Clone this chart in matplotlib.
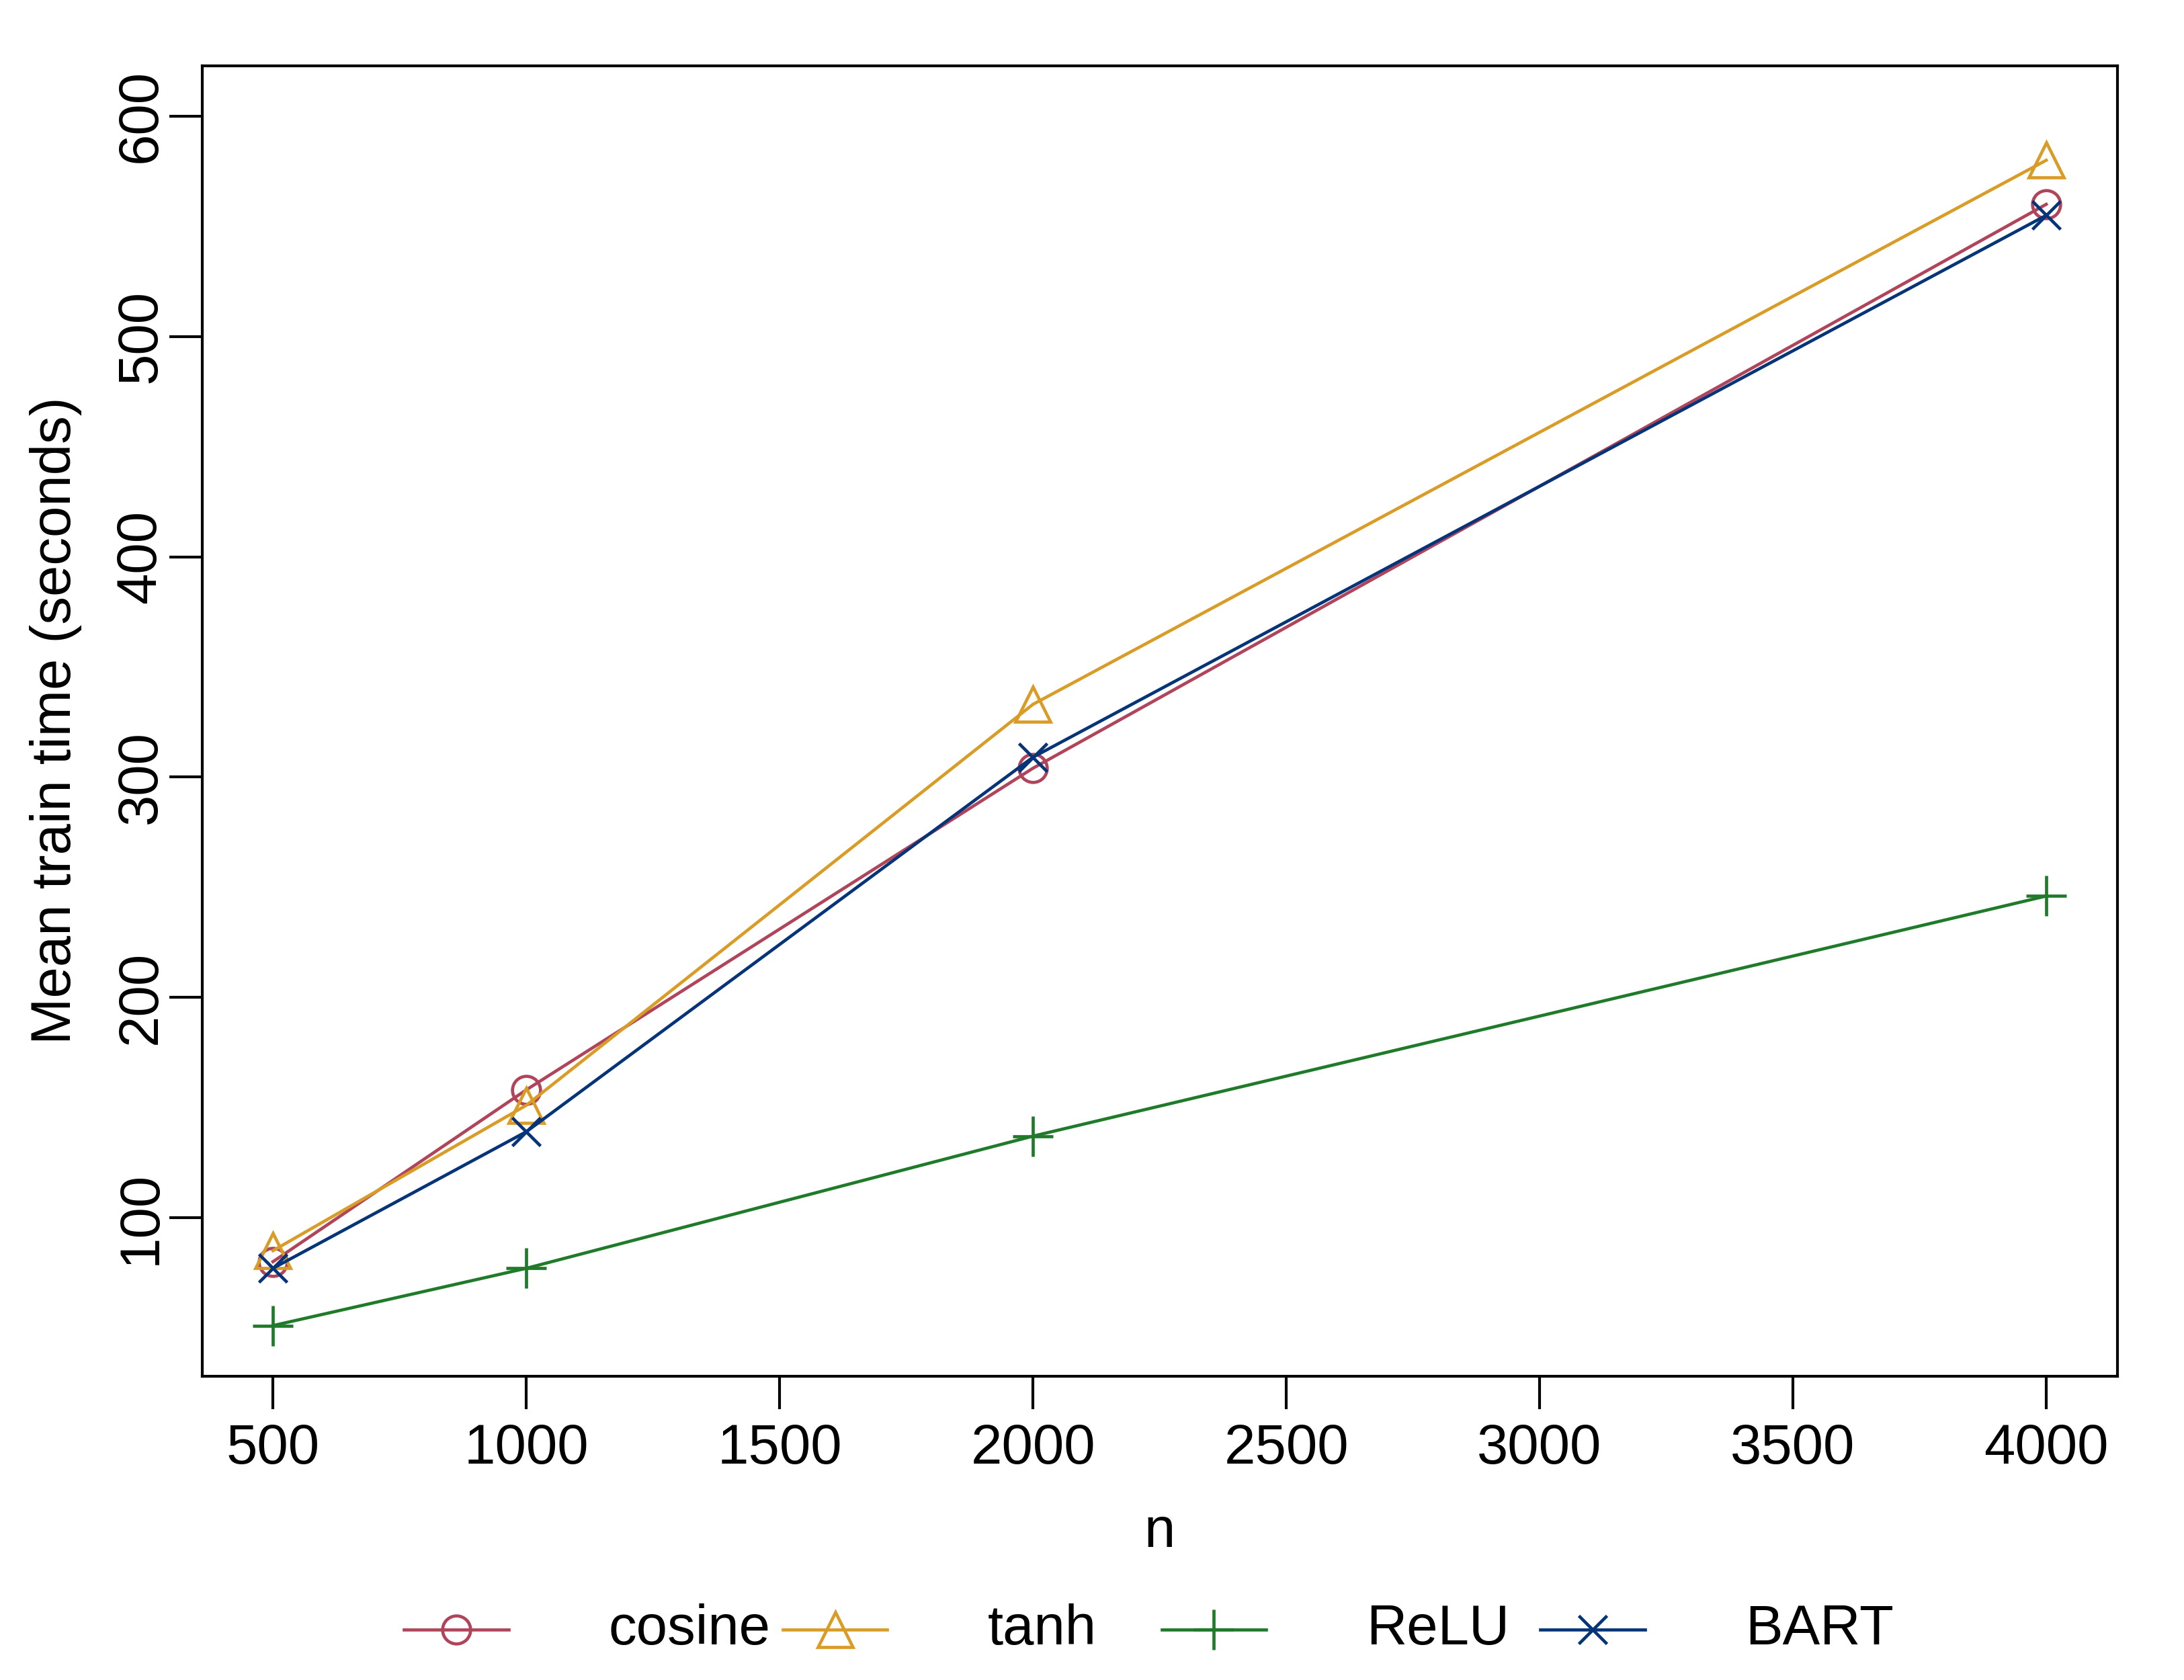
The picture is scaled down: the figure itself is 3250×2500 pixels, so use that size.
import matplotlib
matplotlib.use("Agg")
import matplotlib.pyplot as plt
from matplotlib.lines import Line2D

plt.rcParams['font.family'] = ['Liberation Sans', 'DejaVu Sans']

# data
n = [500, 1000, 2000, 4000]
cosine = [80, 158, 304, 560]
tanh = [85, 151, 333, 580]
relu = [51, 77, 137, 246]
bart = [77, 139, 309, 555]

labels = ["cosine", "tanh", "ReLU", "BART"]
colors = ["#B0445A", "#D89C27", "#1F7A2A", "#063478"]
markers = ["o", "^", "+", "x"]
msizes = [12, 15, 17, 12]
series = [cosine, tanh, relu, bart]

lw = 1.35

fig = plt.figure(figsize=(13, 10), dpi=250)
ax = fig.add_axes([0.0925, 0.1808, 0.8769, 0.7802])

for y, c, m, ms, lab in zip(series, colors, markers, msizes, labels):
    ax.plot(n, y, color=c, marker=m, markersize=ms, markerfacecolor='none',
            markeredgecolor=c, markeredgewidth=lw, linewidth=lw, label=lab)

ax.set_xlim(360, 4140)
ax.set_ylim(28, 623)
ax.set_xticks(range(500, 4001, 500))
ax.set_yticks(range(100, 601, 100))
for s in ax.spines.values():
    s.set_linewidth(1.2)
ax.tick_params(axis='both', length=14, width=1.2, labelsize=24, direction='out')
ax.tick_params(axis='x', pad=6)
ax.tick_params(axis='y', pad=1, labelrotation=90)
for t in ax.get_yticklabels():
    t.set_va('center')

ax.set_xlabel("n", fontsize=24, labelpad=13)
ax.set_ylabel("Mean train time (seconds)", fontsize=24, labelpad=14)

# legend drawn R-style below the plot
x0 = 290 / 1568
step = 272 / 1568
seg = 75 / 1568
txt_off = 147 / 1568
yl = 1 - 1170 / 1206
for i, (c, m, ms, lab) in enumerate(zip(colors, markers, msizes, labels)):
    xs = x0 + i * step
    fig.add_artist(Line2D([xs, xs + seg], [yl, yl], transform=fig.transFigure,
                          color=c, linewidth=lw))
    fig.add_artist(Line2D([xs + seg / 2], [yl], transform=fig.transFigure,
                          color=c, marker=m, markersize=ms, markerfacecolor='none',
                          markeredgecolor=c, markeredgewidth=lw, linestyle='none'))
    fig.text(xs + txt_off, yl, lab, fontsize=24, ha='left', va='center')

fig.savefig("out.png", dpi=250, facecolor='white')
